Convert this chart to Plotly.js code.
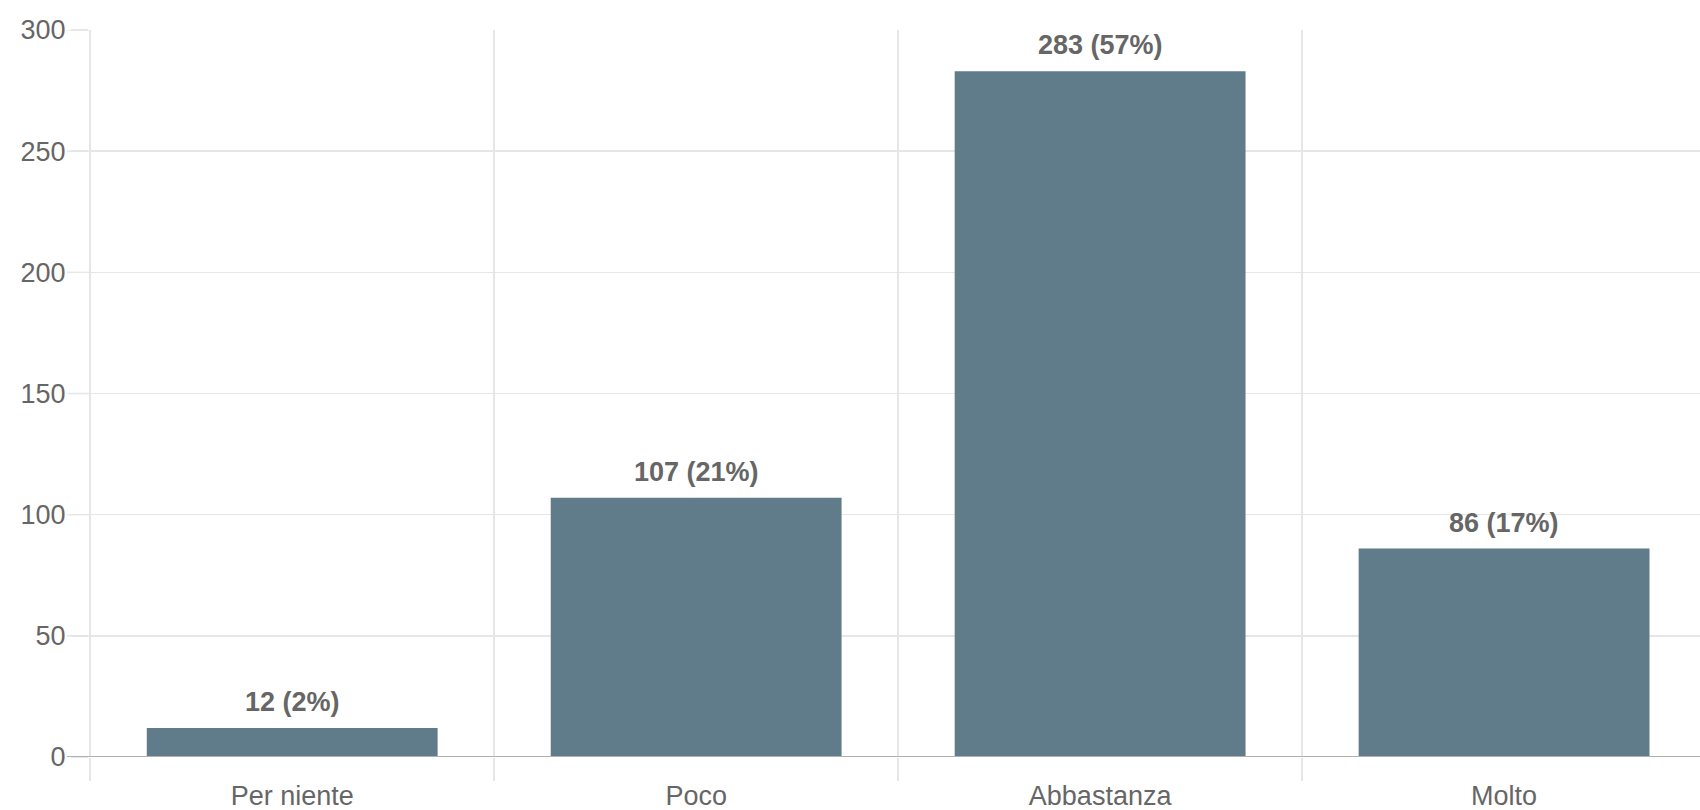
<!DOCTYPE html>
<html>
<head>
<meta charset="utf-8">
<script src="https://cdn.plot.ly/plotly-3.0.1.min.js"></script>
<style>html,body{margin:0;padding:0;background:#fff;}#chart{width:1700px;height:810px;}</style>
</head>
<body>
<div id="chart"></div>
<script>
const categories = ["Per niente", "Poco", "Abbastanza", "Molto"];
const counts = [12, 107, 283, 86];
const percents = [2, 21, 57, 17];
const yTicks = [0, 50, 100, 150, 200, 250, 300];

const labels = counts.map((c, i) => c + " (" + percents[i] + "%)");

const trace = {
  type: "bar",
  x: categories,
  y: counts,
  width: 0.72,
  marker: {color: "#607b8a", line: {width: 0}},
  hoverinfo: "skip"
};

const annotations = categories.map((cat, i) => ({
  x: cat, y: counts[i], xref: "x", yref: "y",
  text: labels[i], showarrow: false,
  yanchor: "bottom", yshift: 9,
  font: {family: "Liberation Sans, Arial, sans-serif", size: 27, color: "#666666", weight: "bold"}
}));

const tickExt = -22 / 1611;
const shapes = yTicks.map(v => ({
  type: "line", xref: "paper", yref: "y",
  x0: tickExt, x1: 0, y0: v, y1: v,
  line: {color: v === 0 ? "#b0b0b0" : "#e6e6e6", width: v === 0 ? 2 : 1.5},
  layer: "above"
}));
shapes.push({
  type: "line", xref: "paper", yref: "y",
  x0: 0, x1: 1, y0: 0, y1: 0,
  line: {color: "#b0b0b0", width: 2}, layer: "above"
});

const layout = {
  width: 1700, height: 810,
  margin: {l: 89, r: 0, t: 30, b: 53, pad: 0},
  paper_bgcolor: "#ffffff", plot_bgcolor: "#ffffff",
  showlegend: false,
  font: {family: "Liberation Sans, Arial, sans-serif", size: 27, color: "#666666"},
  xaxis: {
    type: "category",
    range: [-0.503, 3.485],
    tickson: "boundaries",
    ticks: "outside", ticklen: 23, tickcolor: "#e6e6e6", tickwidth: 1.5,
    showgrid: true, gridcolor: "#e6e6e6", gridwidth: 1.5,
    showline: false, zeroline: false,
    tickfont: {size: 27, color: "#666666"},
    ticklabelstandoff: 20,
    fixedrange: true
  },
  yaxis: {
    range: [0, 300],
    tickvals: yTicks,
    ticktext: yTicks.map(String),
    ticks: "outside", ticklen: 17, tickcolor: "#e6e6e6", tickwidth: 1.5,
    showgrid: true, gridcolor: "#e6e6e6", gridwidth: 1.5,
    zeroline: false, showline: false,
    tickfont: {size: 27, color: "#666666"},
    ticklabelstandoff: 0,
    fixedrange: true
  },
  shapes: shapes,
  annotations: annotations
};

Plotly.newPlot("chart", [trace], layout, {displayModeBar: false, staticPlot: true});
</script>
</body>
</html>
